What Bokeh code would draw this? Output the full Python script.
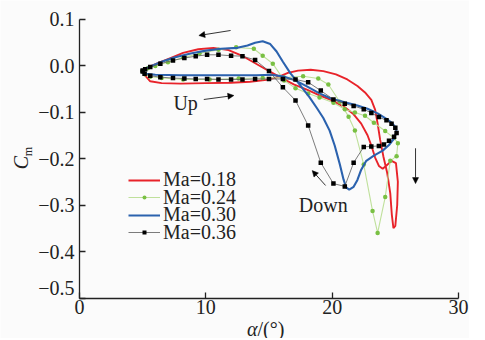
import math
from bokeh.plotting import figure
from bokeh.models import (Range1d, FixedTicker, CustomJSTickFormatter, Label, Arrow,
                          NormalHead, Legend, LegendItem)
from bokeh.embed import file_html
from bokeh.resources import INLINE

# ---------------- data ----------------
red_alpha = [5.0, 5.2, 5.6, 6.5, 8.0, 10.0, 12.0, 13.5, 14.8, 15.7, 16.5, 17.3, 18.3, 19.3, 20.3,
             21.2, 22.0, 22.6, 23.1, 23.4, 23.6, 23.8, 24.05, 24.35, 24.6, 24.72, 24.85, 25.0, 25.15,
             25.2, 25.05, 24.7, 24.3, 24.0, 23.7, 23.4, 23.1, 22.8, 22.3, 21.7, 21.0, 20.0, 19.0,
             18.0, 17.0, 16.2, 15.4, 14.6, 13.7, 12.8, 11.8, 10.6, 9.4, 8.2, 7.2, 6.3, 5.6, 5.2, 5.0]
red_cm = [-0.012, -0.022, -0.034, -0.038, -0.039, -0.038, -0.037, -0.035, -0.031, -0.025, -0.016,
          -0.011, -0.009, -0.012, -0.019, -0.030, -0.044, -0.058, -0.074, -0.095, -0.125, -0.160,
          -0.195, -0.230, -0.275, -0.320, -0.350, -0.345, -0.300, -0.250, -0.210, -0.205, -0.215,
          -0.222, -0.216, -0.198, -0.172, -0.150, -0.125, -0.105, -0.090, -0.075, -0.064, -0.052,
          -0.041, -0.030, -0.018, -0.006, 0.008, 0.022, 0.033, 0.038, 0.035, 0.027, 0.016, 0.006,
          -0.002, -0.007, -0.012]

green_alpha = [5.0, 5.2, 5.6, 6.5, 8.2, 10.3, 12.6, 14.5, 16.2, 17.7, 18.9, 19.7, 20.6, 21.3, 21.8,
               22.5, 23.2, 23.6, 24.2, 24.6, 25.1, 25.2, 24.9, 24.2, 23.3, 22.6, 21.8, 21.0, 20.1,
               19.0, 18.1, 17.1, 16.2, 15.3, 14.5, 13.8, 12.4, 11.0, 9.5, 8.2, 7.0, 6.0, 5.4, 5.0]
green_cm = [-0.012, -0.019, -0.024, -0.027, -0.030, -0.030, -0.028, -0.027, -0.026, -0.023, -0.028,
            -0.041, -0.078, -0.110, -0.140, -0.213, -0.313, -0.360, -0.283, -0.205, -0.195, -0.167,
            -0.156, -0.141, -0.123, -0.108, -0.101, -0.094, -0.080, -0.069, -0.060, -0.049, -0.032,
            0.004, 0.021, 0.036, 0.039, 0.034, 0.026, 0.017, 0.007, -0.001, -0.006, -0.012]

blue_alpha = [5.0, 5.3, 6.0, 8.0, 10.0, 12.0, 14.0, 15.2, 16.2, 17.0, 18.0, 19.0, 19.9, 21.0, 22.0,
              22.8, 23.6, 24.2, 24.7, 25.0, 25.1, 24.9, 24.5, 24.0, 23.3, 22.7, 22.3, 22.0, 21.7,
              21.35, 21.1, 20.9, 20.6, 20.2, 19.8, 19.3, 18.8, 18.2, 17.4, 16.7, 16.1, 15.6, 15.1,
              14.5, 13.9, 13.3, 12.5, 11.2, 10.0, 8.8, 7.5, 6.5, 5.7, 5.2, 5.0]
blue_cm = [-0.012, -0.018, -0.020, -0.021, -0.021, -0.021, -0.021, -0.020, -0.024, -0.031, -0.045,
           -0.060, -0.071, -0.079, -0.086, -0.093, -0.103, -0.113, -0.123, -0.132, -0.142, -0.157,
           -0.171, -0.183, -0.194, -0.205, -0.224, -0.246, -0.261, -0.267, -0.262, -0.245, -0.212,
           -0.172, -0.140, -0.113, -0.092, -0.068, -0.040, -0.017, 0.008, 0.030, 0.046, 0.052,
           0.049, 0.043, 0.038, 0.036, 0.032, 0.026, 0.017, 0.008, -0.001, -0.007, -0.012]

black_alpha = [5.0, 5.15, 5.6, 6.4, 7.4, 8.3, 9.2, 10.1, 11.0, 12.0, 12.9, 13.9, 15.0, 16.1, 17.1,
               18.1, 19.1, 20.1, 21.0, 21.7, 22.5, 23.1, 23.7, 24.3, 24.7, 25.0, 25.1,
               24.9, 24.5, 24.1, 23.7, 23.1, 22.5, 21.7, 21.0, 20.1, 19.1, 18.1, 17.1, 16.1, 15.0,
               13.9, 12.9, 12.0, 11.0, 10.1, 9.2, 8.3, 7.4, 6.4, 5.6, 5.2, 5.0]
black_cm = [-0.013, -0.018, -0.022, -0.025, -0.027, -0.028, -0.029, -0.029, -0.030, -0.030, -0.030,
            -0.029, -0.029, -0.029, -0.030, -0.036, -0.054, -0.073, -0.082, -0.087, -0.094, -0.102,
            -0.111, -0.118, -0.125, -0.134, -0.145,
            -0.153, -0.162, -0.170, -0.173, -0.174, -0.175, -0.209, -0.260, -0.254, -0.209, -0.129,
            -0.075, -0.047, -0.012, 0.012, 0.020, 0.021, 0.023, 0.023, 0.020, 0.016, 0.011, 0.004,
            -0.003, -0.008, -0.011]

series_labels = ["Ma=0.18", "Ma=0.24", "Ma=0.30", "Ma=0.36"]
y_ticks = [0.1, 0.0, -0.1, -0.2, -0.3, -0.4, -0.5]
x_ticks = [0, 10, 20, 30]

# annotation arrows: (x_start, y_start, x_end, y_end)
arrows = [(11.96, 0.0753, 9.45, 0.0645),
          (9.84, -0.0731, 12.22, -0.0645),
          (19.48, -0.258, 18.42, -0.226),
          (26.6, -0.178, 26.6, -0.254)]
texts = [("Up", 8.4, -0.080), ("Down", 19.3, -0.301)]

# ---------------- layout ----------------
FONT = "Liberation Serif"
BG = "#fbfbfb"
W, H = 469, 338              # canvas size
X0_PX, PX_PER_DEG = 79, 12.633   # screen x of alpha=0, px per degree
Y0_PX, PX_PER_CM = 65, 465.0     # screen y of Cm=0, px per unit Cm

def ax_x(px):
    return (px - X0_PX) / PX_PER_DEG

def ax_y(py):
    return (Y0_PX - py) / PX_PER_CM

p = figure(width=W, height=H, x_range=Range1d(ax_x(0), ax_x(W)), y_range=Range1d(ax_y(H), ax_y(0)),
           output_backend="svg", toolbar_location=None,
           min_border_left=0, min_border_right=0, min_border_top=0, min_border_bottom=0)
p.background_fill_color = BG
p.border_fill_color = BG
p.outline_line_color = None
p.xgrid.visible = False
p.ygrid.visible = False

p.xaxis.fixed_location = y_ticks[-1]
p.yaxis.fixed_location = x_ticks[0]
p.xaxis.bounds = (x_ticks[0], x_ticks[-1])
p.yaxis.bounds = (y_ticks[-1], y_ticks[0])

for ax in (p.xaxis[0], p.yaxis[0]):
    ax.axis_line_color = "#222222"
    ax.axis_line_width = 1.3
    ax.major_tick_line_color = "#222222"
    ax.major_tick_line_width = 1.3
    ax.major_tick_in = 6
    ax.major_tick_out = 0
    ax.minor_tick_line_color = None
    ax.major_label_text_font = FONT
    ax.major_label_text_font_size = "20px"
    ax.major_label_text_color = "#222222"

p.xaxis.ticker = FixedTicker(ticks=x_ticks)
p.yaxis.ticker = FixedTicker(ticks=y_ticks)
# the bottom y label is drawn separately, lifted above the x axis as in the reference
p.yaxis.formatter = CustomJSTickFormatter(
    code="if (tick < -0.45) { return ''; } return tick.toFixed(1).replace('-', '\u2212');")
p.xaxis.major_label_standoff = 2
p.yaxis.major_label_standoff = 5

r_red = p.line(red_alpha, red_cm, line_color="#e8232a", line_width=1.9)
g_line = p.line(green_alpha, green_cm, line_color="#bfe09b", line_width=1.1)
g_dots = p.scatter(green_alpha, green_cm, marker="circle", size=4.5,
                   fill_color="#79c043", line_color=None)
r_blue = p.line(blue_alpha, blue_cm, line_color="#2b62ae", line_width=2.1)
k_line = p.line(black_alpha, black_cm, line_color="#5a5a5a", line_width=0.8)
k_dots = p.scatter(black_alpha, black_cm, marker="square", size=4.5,
                   fill_color="black", line_color=None)

for (xs, ys, xe, ye) in arrows:
    p.add_layout(Arrow(end=NormalHead(size=6, fill_color="black", line_color="black", line_width=0.5),
                       x_start=xs, y_start=ys, x_end=xe, y_end=ye,
                       line_color="black", line_width=0.8))

for (t, x, y) in texts:
    p.add_layout(Label(x=x, y=y, text=t, text_font=FONT, text_font_size="20px",
                       text_color="#222222", text_align="center", text_baseline="middle"))

# lifted "-0.5" tick label
p.add_layout(Label(x=ax_x(74), y=ax_y(287), text="\u22120.5", text_font=FONT, text_font_size="20px",
                   text_color="#222222", text_align="right", text_baseline="middle"))

# axis titles
p.add_layout(Label(x=ax_x(20), y=ax_y(162), text="C", text_font=FONT, text_font_size="20px",
                   text_font_style="italic", angle=math.pi / 2, text_color="#222222",
                   text_align="center", text_baseline="middle"))
p.add_layout(Label(x=ax_x(27), y=ax_y(151), text="m", text_font=FONT, text_font_size="12px",
                   angle=math.pi / 2, text_color="#222222",
                   text_align="center", text_baseline="middle"))
p.add_layout(Label(x=ax_x(257), y=ax_y(328), text="\u03b1", text_font=FONT, text_font_size="20px",
                   text_font_style="italic", text_color="#222222",
                   text_align="right", text_baseline="middle"))
p.add_layout(Label(x=ax_x(257), y=ax_y(328), text="/(\u00b0)", text_font=FONT, text_font_size="20px",
                   text_color="#222222", text_align="left", text_baseline="middle"))

# legend: one legend per row so the row spacing can match the reference
rows = [[r_red], [g_line, g_dots], [r_blue], [k_line, k_dots]]
row_centers = [180, 197.5, 215, 232.5]  # screen y of each row centre
for lab, rends, yc in zip(series_labels, rows, row_centers):
    lg = Legend(items=[LegendItem(label=lab, renderers=rends)],
                location=(128, H - yc - 11), padding=0, margin=0, spacing=0,
                glyph_width=32, glyph_height=10, label_height=10, label_standoff=3,
                label_text_font=FONT, label_text_font_size="20px", label_text_color="#222222",
                border_line_alpha=0, background_fill_alpha=0)
    p.add_layout(lg)

open("out.html", "w").write(file_html(p, INLINE))
